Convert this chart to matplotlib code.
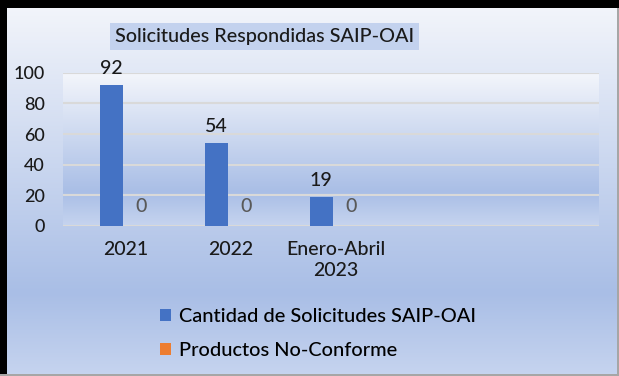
import numpy as np
import matplotlib.pyplot as plt
from matplotlib.colors import LinearSegmentedColormap
from matplotlib.patches import Rectangle

plt.rcParams['font.family'] = ['Lato', 'DejaVu Sans']
plt.rcParams['font.weight'] = 'medium'

# Datos
categorias = ['2021', '2022', 'Enero-Abril\n2023', '', '']
solicitudes = [92, 54, 19]
no_conforme = [0, 0, 0]
series = ['Cantidad de Solicitudes SAIP-OAI', 'Productos No-Conforme']
colores = ['#4472C4', '#ED7D31']

fondo = LinearSegmentedColormap.from_list(
    'fondo', [(0.0, '#f4f6fb'), (0.78, '#a9bee6'), (1.0, '#c6d4ef')])
degradado = np.linspace(0, 1, 256).reshape(-1, 1)

fig = plt.figure(figsize=(6.19, 3.76), dpi=100)

# fondo de la figura
bg = fig.add_axes([0, 0, 1, 1], zorder=-10)
bg.imshow(degradado, cmap=fondo, aspect='auto', extent=(0, 1, 0, 1))
bg.set_xlim(0, 1)
bg.set_ylim(0, 1)
bg.axis('off')

ax = fig.add_axes([0.1018, 0.399, 0.8659, 0.4076])
x = np.arange(len(solicitudes))
ancho = 0.22
b1 = ax.bar(x - 0.135, solicitudes, ancho, color=colores[0], label=series[0], zorder=3)
b2 = ax.bar(x + 0.15, no_conforme, ancho, color=colores[1], label=series[1], zorder=3)

ax.imshow(degradado, cmap=fondo, aspect='auto', extent=(-0.595, 4.51, 0, 100), zorder=0)
ax.set_xlim(-0.595, 4.51)
ax.set_ylim(0, 100)
ax.set_yticks(range(0, 101, 20))
ax.yaxis.grid(True, color='#d9d9d9', linewidth=1.5, zorder=1)
ax.set_axisbelow(True)
for s in ax.spines.values():
    s.set_visible(False)
ax.tick_params(axis='y', length=0, pad=13, labelsize=13, labelcolor='#1a1a1a')
ax.set_xticks(range(len(categorias)))
ax.set_xticklabels(categorias, fontsize=14, color='#1a1a1a', linespacing=1.3)
ax.tick_params(axis='x', length=0, pad=11)

# etiquetas de valores
for barra, v in zip(b1, solicitudes):
    ax.annotate(str(v), (barra.get_x() + barra.get_width() / 2, v),
                xytext=(0, 12), textcoords='offset points',
                ha='center', va='center', fontsize=14, color='#1a1a1a')
for barra, v in zip(b2, no_conforme):
    ax.annotate(str(v), (barra.get_x() + barra.get_width() / 2, v),
                xytext=(0, 14), textcoords='offset points',
                ha='center', va='center', fontsize=14, color='#595959')

fig.text(0.427, 0.902, 'Solicitudes Respondidas SAIP-OAI', ha='center', va='center',
         fontsize=14.2, color='#1a1a1a',
         bbox=dict(boxstyle='square,pad=0.25', facecolor='#c3d2ee', edgecolor='none'))

fig.legend(handles=[b1, b2], labels=series, loc='center left',
           bbox_to_anchor=(0.245, 0.114), frameon=False, fontsize=14.4,
           handlelength=0.55, handleheight=0.55, handletextpad=0.4,
           labelspacing=0.85, borderaxespad=0)

# marco
tf = fig.transFigure
fig.patches.extend([
    Rectangle((0, 0.979), 1, 0.021, transform=tf, facecolor='black', edgecolor='none', zorder=20),
    Rectangle((0, 0), 0.012, 1, transform=tf, facecolor='black', edgecolor='none', zorder=20),
    Rectangle((0.996, 0), 0.004, 0.98, transform=tf, facecolor='#a6a6a6', edgecolor='none', zorder=20),
    Rectangle((0, 0), 1, 0.005, transform=tf, facecolor='#a6a6a6', edgecolor='none', zorder=20),
])

plt.savefig('out.png', dpi=100)
